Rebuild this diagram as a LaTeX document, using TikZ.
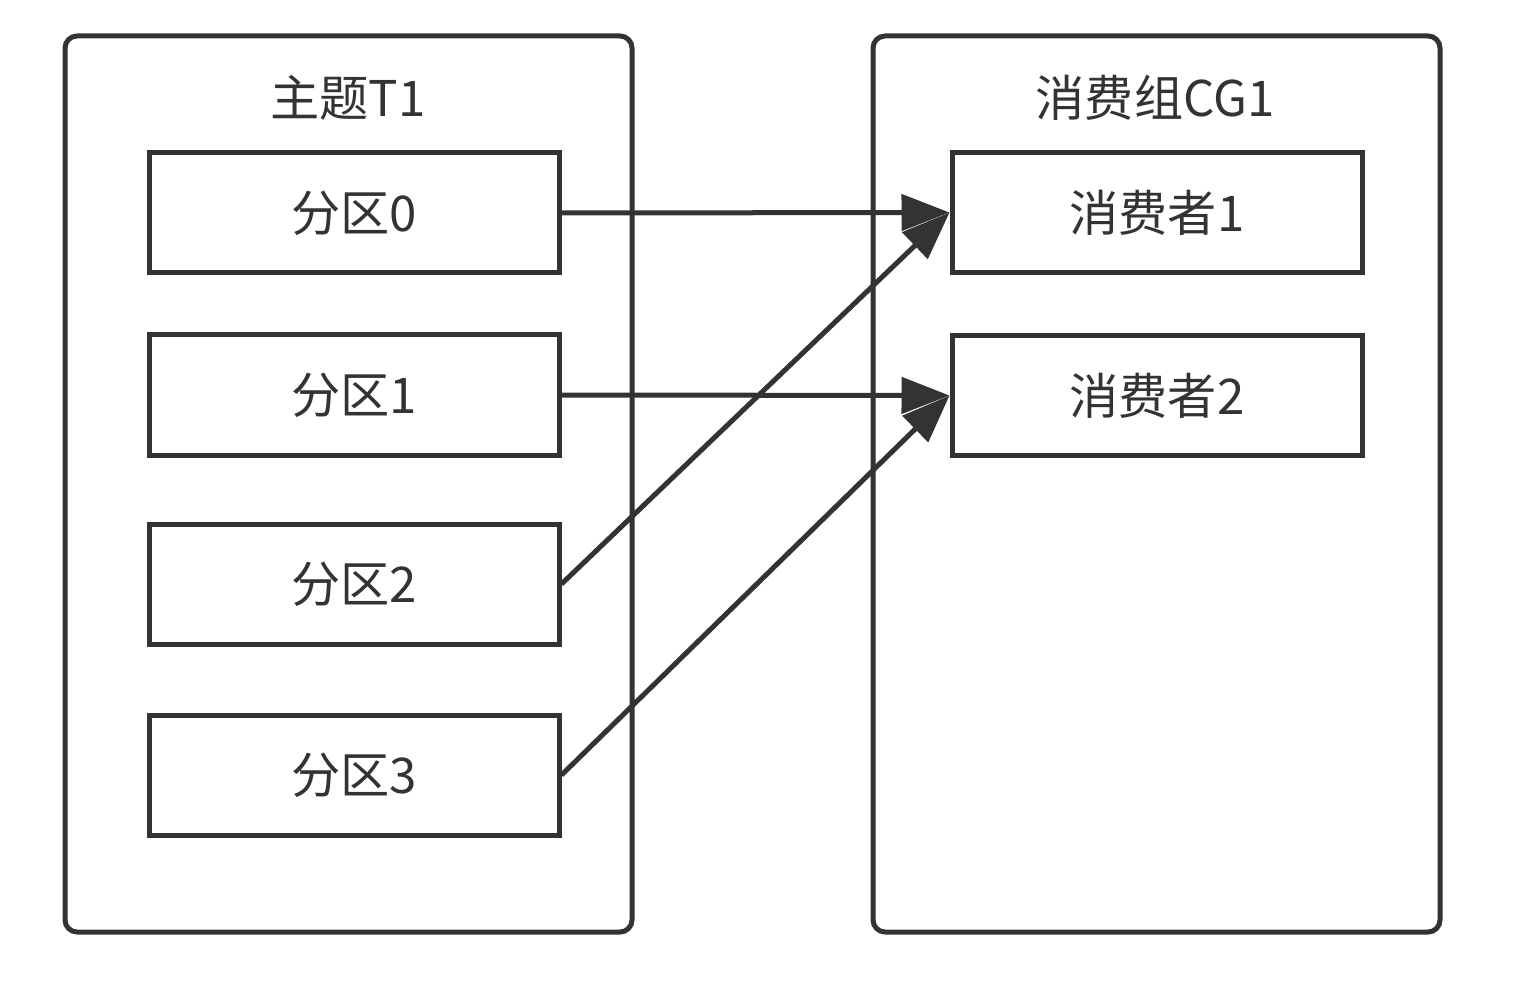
\documentclass[tikz,border=0pt]{standalone}
\usepackage{fontspec}
\setmainfont{Noto Sans CJK SC}
\usepackage{xcolor}
\usepackage{tikz}
\usetikzlibrary{arrows.meta, positioning}
\definecolor{ink}{HTML}{333333}
\tikzset{group/.style={rectangle,draw=ink,line width=0.1cm,rounded corners=0.24cm,minimum width=11.34cm,minimum height=17.92cm},
         title/.style={text=ink,font=\fontsize{28}{33}\selectfont},
         part/.style={rectangle,draw=ink,line width=0.1cm,minimum width=8.2cm,minimum height=2.4cm,text=ink,font=\fontsize{28}{33}\selectfont},
         arrow/.style={-{Triangle[length=0.96cm,width=0.72cm]},line width=0.1cm,draw=ink}}

\begin{document}
\begin{tikzpicture}[node distance=1.3cm]
    \useasboundingbox (0,0) rectangle (30.32,-19.64);
    % containers
    \node (topic) [group] at (6.97,-9.68) {};
    \node (cgroup) [group] at (23.13,-9.68) {};
    \node (ttopic) [title] at (6.96,-1.96) {主题T1};
    \node (tgroup) [title] at (23.1,-1.96) {消费组CG1};
    % partitions
    \node (p0) [part] at (7.08,-4.26) {分区0};
    \node (p1) [part, below=1.14cm of p0] {分区1};
    \node (p2) [part, below=1.28cm of p1] {分区2};
    \node (p3) [part, below=1.32cm of p2] {分区3};
    % consumers
    \node (c1) [part] at (23.14,-4.25) {消费者1};
    \node (c2) [part, below=1.16cm of c1] {消费者2};
    % assignment
    \draw[arrow] (p0.east) -- (c1.west);
    \draw[arrow] (p1.east) -- (c2.west);
    \draw[arrow] (p2.east) -- (c1.west);
    \draw[arrow] (p3.east) -- (c2.west);
\end{tikzpicture}
\end{document}
